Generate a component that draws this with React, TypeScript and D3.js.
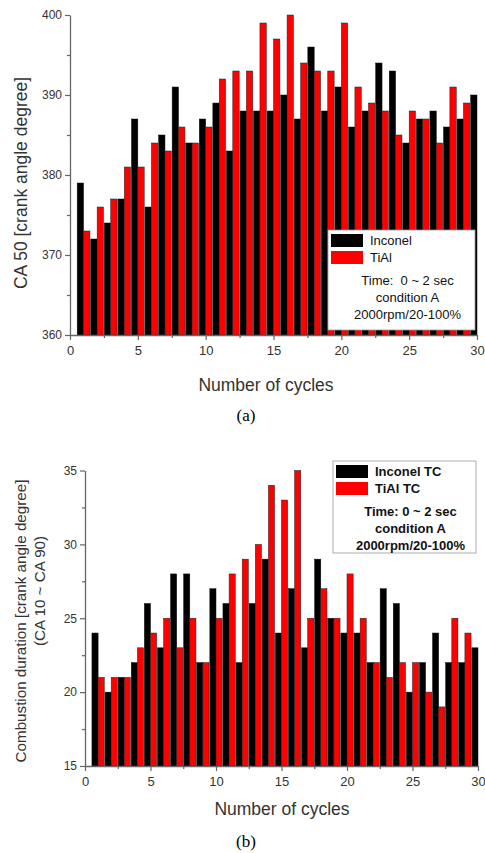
import React, { useRef, useEffect } from 'react';
import * as d3 from 'd3';

// chart (a): CA 50
const cyclesA = d3.range(1, 31);
const inconelA = [379, 372, 374, 377, 387, 376, 385, 391, 384, 387, 389, 383, 388, 388, 388, 390, 387, 396, 388, 391, 386, 388, 394, 393, 384, 387, 388, 386, 387, 390];
const tialA = [373, 376, 377, 381, 381, 384, 383, 386, 384, 386, 392, 393, 393, 399, 397, 400, 394, 393, 393, 399, 391, 389, 388, 385, 388, 387, 384, 391, 389];
const yTicksA = [360, 370, 380, 390, 400];

// chart (b): combustion duration
const inconelB = [24, 20, 21, 22, 26, 23, 28, 28, 22, 27, 26, 22, 26, 29, 24, 27, 23, 29, 25, 24, 24, 22, 27, 26, 20, 22, 24, 22, 22, 23];
const tialB = [21, 21, 21, 23, 24, 25, 23, 25, 22, 25, 28, 29, 30, 34, 33, 35, 25, 27, 25, 28, 25, 22, 21, 22, 22, 20, 19, 25, 24];
const yTicksB = [15, 20, 25, 30, 35];
const xTicks = [0, 5, 10, 15, 20, 25, 30];

const FONT = '"Liberation Sans", Arial, sans-serif';

export default function App() {
  const ref = useRef<SVGSVGElement>(null);

  useEffect(() => {
    const svg = d3.select(ref.current);
    svg.selectAll('*').remove();

    // 画一个柱状图面板
    const panel = (opt: any) => {
      const x = d3.scaleLinear().domain([0, 30]).range([opt.x0, opt.x1]);
      const y = d3.scaleLinear().domain(opt.yDomain).range([opt.y0, opt.y1]);
      const g = svg.append('g');
      const step = x(1) - x(0);
      const w = step * 0.47;

      g.append('g').selectAll('rect')
        .data(opt.black)
        .enter().append('rect')
        .attr('x', (d: number, i: number) => x(cyclesA[i]) - w)
        .attr('y', (d: number) => y(d))
        .attr('width', w)
        .attr('height', (d: number) => y(opt.yDomain[0]) - y(d))
        .attr('fill', '#000')
        .attr('stroke', '#111')
        .attr('stroke-width', 0.5);

      g.append('g').selectAll('rect')
        .data(opt.red)
        .enter().append('rect')
        .attr('x', (d: number, i: number) => x(cyclesA[i]))
        .attr('y', (d: number) => y(d))
        .attr('width', w)
        .attr('height', (d: number) => y(opt.yDomain[0]) - y(d))
        .attr('fill', '#ff0000')
        .attr('stroke', '#222')
        .attr('stroke-width', 0.5);

      // 坐标轴
      const axisColor = '#666';
      const yAxis = g.append('g').attr('transform', `translate(${opt.x0},0)`)
        .call(d3.axisLeft(y).tickValues(opt.yTicks).tickSize(5).tickSizeOuter(0).tickPadding(3));
      const yMinor = g.append('g').attr('transform', `translate(${opt.x0},0)`)
        .call(d3.axisLeft(y).tickValues(opt.yTicks.slice(1).map((t: number) => t - opt.yMinor)).tickSize(3).tickFormat(() => ''));
      const xAxis = g.append('g').attr('transform', `translate(0,${opt.y0})`)
        .call(d3.axisBottom(x).tickValues(xTicks).tickSize(5).tickSizeOuter(0).tickPadding(6));
      const xMinor = g.append('g').attr('transform', `translate(0,${opt.y0})`)
        .call(d3.axisBottom(x).tickValues(xTicks.slice(1).map(t => t - 2.5)).tickSize(3).tickFormat(() => ''));
      [yAxis, yMinor, xAxis, xMinor].forEach(a => {
        a.selectAll('path').attr('stroke', axisColor).attr('stroke-width', 1.3);
        a.selectAll('line').attr('stroke', axisColor).attr('stroke-width', 1.2);
        a.selectAll('text').attr('fill', '#333').attr('font-family', FONT);
      });
      yAxis.selectAll('text').attr('font-size', 12);
      xAxis.selectAll('text').attr('font-size', 13);
      yMinor.select('path').remove();
      xMinor.select('path').remove();

      // 轴标题
      g.append('text')
        .attr('x', opt.xTitleX)
        .attr('y', opt.xTitleY)
        .attr('text-anchor', 'middle')
        .attr('font-family', FONT).attr('font-size', 17.5).attr('fill', '#333')
        .text('Number of cycles');

      opt.yTitle.forEach((t: any) => {
        g.append('text')
          .attr('transform', `translate(${t.x},${t.cy}) rotate(-90)`)
          .attr('text-anchor', 'middle')
          .attr('font-family', FONT).attr('font-size', t.size).attr('fill', '#333')
          .text(t.text);
      });

      g.append('text')
        .attr('x', 246)
        .attr('y', opt.tagY)
        .attr('text-anchor', 'middle')
        .attr('font-family', '"Liberation Serif", "Times New Roman", serif')
        .attr('font-size', 17).attr('fill', '#000')
        .text(opt.tag);

      // 图例
      const L = opt.legend;
      const lg = g.append('g');
      lg.append('rect')
        .attr('x', L.x).attr('y', L.y).attr('width', L.w).attr('height', L.h)
        .attr('fill', '#fff').attr('stroke', '#999').attr('stroke-width', 0.8);
      opt.names.forEach((n: string, i: number) => {
        lg.append('rect')
          .attr('x', L.x + 3).attr('y', L.y + 4 + i * 17).attr('width', 32).attr('height', 13)
          .attr('fill', i === 0 ? '#000' : '#ff0000');
        lg.append('text')
          .attr('x', L.x + 42).attr('y', L.y + 15 + i * 17)
          .attr('font-family', FONT).attr('font-size', 13).attr('font-weight', L.bold ? 'bold' : 'normal')
          .attr('fill', '#111')
          .text(n);
      });
      L.lines.forEach((t: string, i: number) => {
        lg.append('text')
          .attr('x', L.x + L.w / 2 + 6).attr('y', L.y + 55 + i * 17)
          .attr('text-anchor', 'middle')
          .attr('font-family', FONT).attr('font-size', 13).attr('font-weight', L.bold ? 'bold' : 'normal')
          .attr('fill', '#111')
          .attr('xml:space', 'preserve')
          .text(t);
      });
    };

    panel({
      x0: 70, x1: 477, y0: 335, y1: 15,
      yDomain: [360, 400], yTicks: yTicksA, yMinor: 5,
      black: inconelA, red: tialA,
      xTitleX: 266, xTitleY: 391,
      yTitle: [{ text: 'CA 50 [crank angle degree]', x: 27, cy: 183, size: 17.5 }],
      tag: '(a)', tagY: 421,
      names: ['Inconel', 'TiAl'],
      legend: { x: 328, y: 230, w: 147, h: 100, bold: false, lines: ['Time:  0 ~ 2 sec', 'condition A', '2000rpm/20-100%'] }
    });

    panel({
      x0: 85, x1: 478, y0: 766, y1: 470.5,
      yDomain: [15, 35], yTicks: yTicksB, yMinor: 2.5,
      black: inconelB, red: tialB,
      xTitleX: 282, xTitleY: 815,
      yTitle: [
        { text: 'Combustion duration [crank angle degree]', x: 26, cy: 621, size: 15.2 },
        { text: '(CA 10 ~ CA 90)', x: 45, cy: 591, size: 15.2 }
      ],
      tag: '(b)', tagY: 847,
      names: ['Inconel TC', 'TiAl TC'],
      legend: { x: 333, y: 461, w: 143, h: 92, bold: true, lines: ['Time: 0 ~ 2 sec', 'condition A', '2000rpm/20-100%'] }
    });
  }, []);

  return (
    <div style={{ position: 'absolute', top: 0, left: 0 }}>
      <svg ref={ref} width={485} height={853} style={{ display: 'block', background: '#fff' }} />
    </div>
  );
}
